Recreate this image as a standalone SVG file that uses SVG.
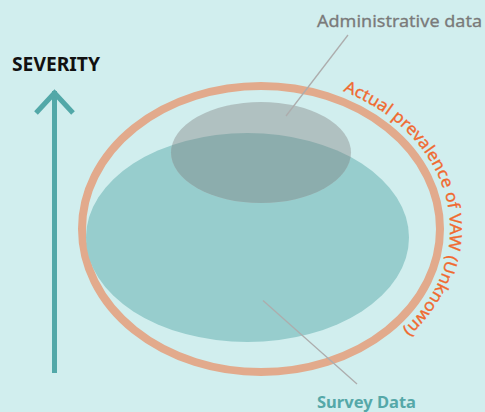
<svg xmlns="http://www.w3.org/2000/svg" width="485" height="412" viewBox="0 0 485 412">
<style>
text{font-family:"Noto Sans","Open Sans","DejaVu Sans",sans-serif}
.lead{stroke:#adadad;stroke-width:1.3;fill:none}
</style>
<defs>
<clipPath id="surveyClip"><ellipse cx="247.5" cy="237.5" rx="161.5" ry="104.5"/></clipPath>
<path id="arcPath" d="M 343 91.1 A 189 153 0 0 1 450 229 A 189 153 0 0 1 261 382"/>
</defs>
<rect width="485" height="412" fill="#d1eeee"/>
<g id="severity-axis">
<line x1="54.5" y1="373" x2="54.5" y2="91" stroke="#52a8a8" stroke-width="5"/>
<polyline points="36,113 54.5,93 73,113" fill="none" stroke="#52a8a8" stroke-width="5"/>
<text x="12" y="71" font-size="19" font-weight="bold" fill="#111" textLength="88" lengthAdjust="spacingAndGlyphs">SEVERITY</text>
</g>
<g id="actual-prevalence">
<ellipse cx="261" cy="229" rx="179" ry="143" fill="none" stroke="#e2aa8c" stroke-width="8"/>
<text font-size="16.5" fill="#f06a30" stroke="#f06a30" stroke-width="0.3"><textPath href="#arcPath" textLength="300" lengthAdjust="spacingAndGlyphs">Actual prevalence of VAW (Unknown)</textPath></text>
</g>
<g id="survey-data">
<ellipse cx="247.5" cy="237.5" rx="161.5" ry="104.5" fill="#97cdcd"/>
</g>
<g id="administrative-data">
<ellipse cx="261" cy="152.5" rx="90" ry="50.5" fill="#b0c1c1"/>
<ellipse cx="261" cy="152.5" rx="90" ry="50.5" fill="#8cadad" clip-path="url(#surveyClip)"/>
</g>
<g id="connectors">
<line class="lead" x1="348" y1="35" x2="286" y2="116"/>
<line class="lead" x1="263" y1="300.5" x2="357" y2="384"/>
</g>
<g id="labels">
<text x="317" y="27" font-size="17" fill="#7a7a7a" stroke="#7a7a7a" stroke-width="0.3" textLength="165" lengthAdjust="spacingAndGlyphs">Administrative data</text>
<text x="317" y="408" font-size="16.5" font-weight="bold" fill="#55a8a8" textLength="99" lengthAdjust="spacingAndGlyphs">Survey Data</text>
</g>
</svg>
